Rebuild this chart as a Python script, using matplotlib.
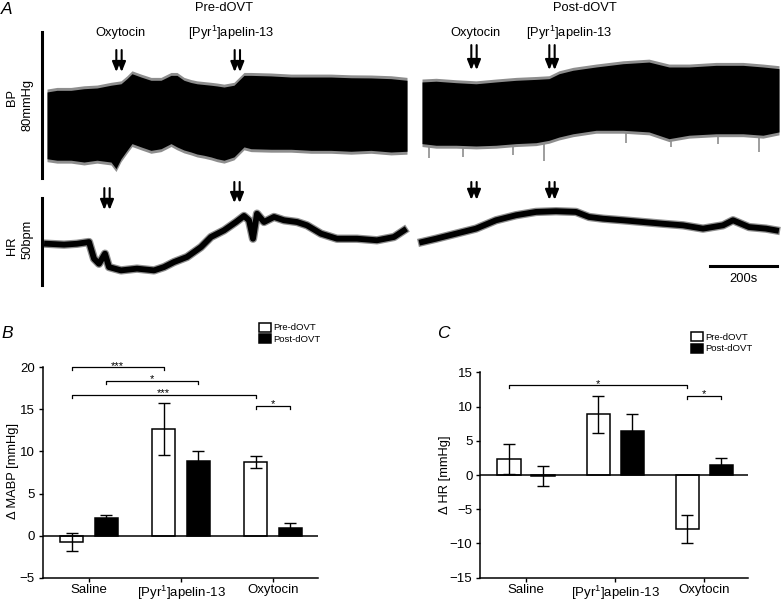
import matplotlib
matplotlib.use("Agg")
import matplotlib.pyplot as plt
from matplotlib.patches import Patch

plt.rcParams['font.family'] = ['Liberation Sans', 'DejaVu Sans']
plt.rcParams['mathtext.fontset'] = 'custom'
plt.rcParams['mathtext.rm'] = 'Liberation Sans'
plt.rcParams['mathtext.it'] = 'Liberation Sans:italic'

W, H = 782, 602

# ---------------- panel A: recordings (s, mmHg, bpm) ----------------
bp_pre_t = [0, 30, 72, 111, 150, 192, 207, 222, 240, 255, 282, 312, 342, 372, 390,
            411, 432, 450, 471, 492, 510, 531, 561, 591, 612, 672, 732, 792, 852,
            912, 972, 1032, 1080]
bp_pre_hi = [87.3, 88.2, 88.2, 89.1, 89.5, 91.0, 91.4, 91.8, 94.6, 97.3, 95.5, 93.7,
             93.7, 96.4, 96.4, 93.7, 92.5, 91.8, 91.4, 91.0, 90.6, 90.0, 91.0, 96.4,
             96.4, 96.1, 95.5, 95.5, 95.5, 95.1, 95.0, 94.6, 93.7]
bp_pre_lo = [50.7, 49.9, 49.9, 48.9, 49.9, 48.9, 45.3, 50.7, 55.3, 59.0, 57.2, 55.3,
             56.2, 59.0, 57.2, 55.5, 54.4, 53.3, 52.6, 51.7, 50.7, 49.9, 51.7, 57.2,
             56.2, 55.9, 55.9, 55.3, 55.3, 54.8, 55.3, 54.4, 54.8]

bp_post_t = [0, 42, 102, 162, 222, 282, 342, 381, 411, 453, 522, 603, 681, 741, 801,
             882, 963, 1023, 1071]
bp_post_hi = [92.8, 93.2, 92.4, 91.8, 92.8, 93.7, 94.2, 94.6, 97.3, 99.2, 101.0,
              102.8, 103.7, 101.0, 101.0, 101.9, 101.9, 101.0, 100.1]
bp_post_lo = [59.0, 58.1, 58.1, 57.7, 58.1, 59.0, 59.5, 60.8, 62.6, 64.4, 66.3,
              66.3, 65.4, 61.7, 63.6, 64.4, 64.4, 63.6, 65.4]
# single low-going beats after dOVT (time, lowest pressure)
bp_post_spike_t = [21, 123, 273, 366, 612, 747, 888, 1011]
bp_post_spike_v = [51.1, 51.7, 52.8, 49.5, 59.3, 57.2, 58.8, 54.4]

hr_pre_t = [0, 51, 90, 126, 141, 156, 174, 186, 222, 270, 321, 351, 381, 420, 462,
            492, 531, 567, 591, 606, 618, 630, 651, 681, 711, 750, 780, 822, 870,
            930, 990, 1041, 1071]
hr_pre = [373.7, 373.2, 373.7, 374.7, 365.1, 362.2, 368.0, 360.3, 358.4, 359.4,
          358.4, 360.3, 363.2, 366.1, 371.8, 377.6, 381.4, 386.2, 389.7, 387.2,
          376.6, 391.0, 386.2, 389.1, 387.2, 386.2, 384.3, 379.5, 376.6, 376.6,
          375.7, 377.6, 381.4]

hr_post_t = [0, 42, 102, 162, 222, 282, 342, 402, 462, 501, 543, 603, 663, 723, 783,
             843, 903, 933, 981, 1032, 1062]
hr_post = [374.7, 376.6, 379.5, 382.4, 387.2, 390.1, 392.0, 392.4, 392.0, 389.1,
           388.1, 387.2, 386.2, 385.2, 384.3, 382.4, 384.3, 387.2, 383.3, 382.4,
           381.4]

# injection times (s) and arrow tail/head levels
bp_pre_arrows = [(216, 110.3, 98.2), (571, 110.3, 98.2)]
bp_post_arrows = [(156, 113.0, 99.3), (390, 113.0, 99.3)]
hr_pre_arrows = [(180, 405.7, 393.1), (570, 409.2, 397.1)]
hr_post_arrows = [(156, 409.2, 398.9), (390, 409.2, 398.9)]

# ---------------- panels B / C: group means ----------------
groups = ['Saline', r'[Pyr$^{\mathrm{1}}$]apelin-13', 'Oxytocin']
mabp_pre = [-0.76, 12.7, 8.75]
mabp_pre_err = [1.05, 3.1, 0.7]
mabp_post = [2.05, 8.9, 0.85]
mabp_post_err = [0.38, 1.12, 0.7]
dhr_pre = [2.4, 8.85, -7.9]
dhr_pre_err = [2.2, 2.7, 2.05]
dhr_post = [-0.15, 6.4, 1.45]
dhr_post_err = [1.45, 2.45, 1.05]

sig_b = [(0, 'pre', 1, 'pre', 20.0, '***'), (0, 'post', 1, 'post', 18.4, '*'),
         (0, 'pre', 2, 'pre', 16.7, '***'), (2, 'pre', 2, 'post', 15.4, '*')]
sig_c = [(0, 'pre', 2, 'pre', 13.1, '*'), (2, 'pre', 2, 'post', 11.55, '*')]


def box(x0, y0, x1, y1):
    return [x0 / W, 1 - y1 / H, (x1 - x0) / W, (y1 - y0) / H]


def ftext(x, y, s, **kw):
    fig.text(x / W, 1 - y / H, s, ha='center', va='center', **kw)


fig = plt.figure(figsize=(W / 100, H / 100), dpi=100)

ax_bp1 = fig.add_axes(box(0, 23.2, 410, 187.4))
ax_bp2 = fig.add_axes(box(412, 23.2, 782, 187.4))
ax_hr1 = fig.add_axes(box(0, 171.9, 410, 293.7))
ax_hr2 = fig.add_axes(box(412, 171.9, 782, 293.7))
for a in (ax_bp1, ax_bp2, ax_hr1, ax_hr2):
    a.set_axis_off()
    a.patch.set_alpha(0)
for a in (ax_bp1, ax_hr1):
    a.set_xlim(-141, 1089)
for a in (ax_bp2, ax_hr2):
    a.set_xlim(-30, 1080)
for a in (ax_bp1, ax_bp2):
    a.set_ylim(35, 125)
for a in (ax_hr1, ax_hr2):
    a.set_ylim(345, 415)

GREY = '#8e8e8e'


def bp_band(ax, t, hi, lo):
    ax.fill_between(t, [v + 1.6 for v in hi], [v - 1.6 for v in lo],
                    color=GREY, lw=0, zorder=2)
    ax.fill_between(t, hi, lo, color='black', lw=0, zorder=3)


def hr_line(ax, t, v):
    ax.plot(t, v, color=GREY, lw=6.0, solid_joinstyle='round')
    ax.plot(t, v, color='black', lw=4.2, solid_joinstyle='round')


def arrows(ax, items):
    for t, y0, y1 in items:
        for dx in (-8, 8):
            ax.annotate('', xy=(t + dx, y1), xytext=(t + dx, y0),
                        annotation_clip=False,
                        arrowprops=dict(arrowstyle='-|>,head_length=0.6,head_width=0.24',
                                        lw=1.5, color='k', shrinkA=0, shrinkB=0))


bp_band(ax_bp1, bp_pre_t, bp_pre_hi, bp_pre_lo)
bp_band(ax_bp2, bp_post_t, bp_post_hi, bp_post_lo)
ax_bp2.vlines(bp_post_spike_t, bp_post_spike_v, 66, color=GREY, lw=1.2, zorder=1)
hr_line(ax_hr1, hr_pre_t, hr_pre)
hr_line(ax_hr2, hr_post_t, hr_post)
arrows(ax_bp1, bp_pre_arrows)
arrows(ax_bp2, bp_post_arrows)
arrows(ax_hr1, hr_pre_arrows)
arrows(ax_hr2, hr_post_arrows)

# scale bars
ax_bp1.plot([-16, -16], [40, 120], color='k', lw=2.2, clip_on=False)
ax_hr1.plot([-16, -16], [350, 400], color='k', lw=2.2, clip_on=False)
ax_hr2.plot([865, 1065], [361, 361], color='k', lw=2.2, clip_on=False)

fs = 9.3
ftext(7, 10, 'A', fontsize=12.5, style='italic')
ftext(223.5, 8, 'Pre-dOVT', fontsize=fs)
ftext(585, 8, 'Post-dOVT', fontsize=fs)
ftext(120, 33, 'Oxytocin', fontsize=fs)
ftext(231, 33, r'[Pyr$^{\mathrm{1}}$]apelin-13', fontsize=fs)
ftext(475, 33, 'Oxytocin', fontsize=fs)
ftext(569, 33, r'[Pyr$^{\mathrm{1}}$]apelin-13', fontsize=fs)
ftext(12, 97, 'BP', fontsize=fs, rotation=90)
ftext(28, 105, '80mmHg', fontsize=fs, rotation=90)
ftext(12, 245.5, 'HR', fontsize=fs, rotation=90)
ftext(28, 239.5, '50bpm', fontsize=fs, rotation=90)
ftext(743, 279, '200s', fontsize=fs)


# ---------------- bar panels ----------------
def bar_panel(ax, pre, pre_err, post, post_err, off, width, ylim, yticks, sigs, h):
    x = list(range(len(groups)))
    ekw = dict(ecolor='k', elinewidth=1.0, capthick=1.0)
    ax.bar([i - off for i in x], pre, width, yerr=pre_err, color='white',
           edgecolor='k', linewidth=1.1, capsize=4.5, error_kw=ekw, zorder=2)
    ax.bar([i + off for i in x], post, width, yerr=post_err, color='black',
           edgecolor='k', linewidth=1.1, capsize=4.5, error_kw=ekw, zorder=2)
    ax.axhline(0, color='k', lw=1.1, zorder=3)
    ax.set_ylim(*ylim)
    ax.set_yticks(yticks)
    ax.set_xticks(x)
    ax.set_xticklabels(groups)
    for s in ('top', 'right'):
        ax.spines[s].set_visible(False)
    for s in ('left', 'bottom'):
        ax.spines[s].set_linewidth(1.1)
    ax.tick_params(axis='both', labelsize=9.5, width=1.0, length=3)
    ax.tick_params(axis='x', pad=1.6)
    ax.tick_params(axis='y', pad=2.4)
    pos = {'pre': -off, 'post': off}
    for g0, s0, g1, s1, y, lab in sigs:
        x0, x1 = g0 + pos[s0], g1 + pos[s1]
        ax.plot([x0, x0, x1, x1], [y - h, y, y, y - h], color='k', lw=0.9,
                clip_on=False)
        ax.annotate(lab, xy=((x0 + x1) / 2, y), xytext=(0, -1),
                    textcoords='offset points', ha='center', va='baseline',
                    fontsize=8, annotation_clip=False)


ax_b = fig.add_axes(box(42.5, 367.3, 318, 577.7))
bar_panel(ax_b, mabp_pre, mabp_pre_err, mabp_post, mabp_post_err, 0.188, 0.255,
          (-5, 20), [-5, 0, 5, 10, 15, 20], sig_b, 0.36)
ax_b.set_xlim(-0.505, 2.489)

ax_c = fig.add_axes(box(480, 372.3, 748, 577.7))
bar_panel(ax_c, dhr_pre, dhr_pre_err, dhr_post, dhr_post_err, 0.19, 0.26,
          (-15, 15), [-15, -10, -5, 0, 5, 10, 15], sig_c, 0.44)
ax_c.set_xlim(-0.516, 2.489)

ftext(7, 333, 'B', fontsize=12.5, style='italic')
ftext(443.5, 333.5, 'C', fontsize=12.5, style='italic')
ftext(13.5, 471, 'Δ MABP [mmHg]', fontsize=9.3, rotation=90)
ftext(445, 475, 'Δ HR [mmHg]', fontsize=9.3, rotation=90)

handles = [Patch(facecolor='white', edgecolor='k', linewidth=1.1, label='Pre-dOVT'),
           Patch(facecolor='black', edgecolor='k', linewidth=1.1, label='Post-dOVT')]
for lx, ly in ((259, 322.5), (691, 332)):
    fig.legend(handles=handles, loc='upper left', bbox_to_anchor=(lx / W, 1 - ly / H),
               frameon=False, fontsize=6.8, handlelength=1.25, handleheight=1.1,
               handletextpad=0.3, labelspacing=0.2, borderpad=0, borderaxespad=0)

fig.savefig('out.png', dpi=100)
